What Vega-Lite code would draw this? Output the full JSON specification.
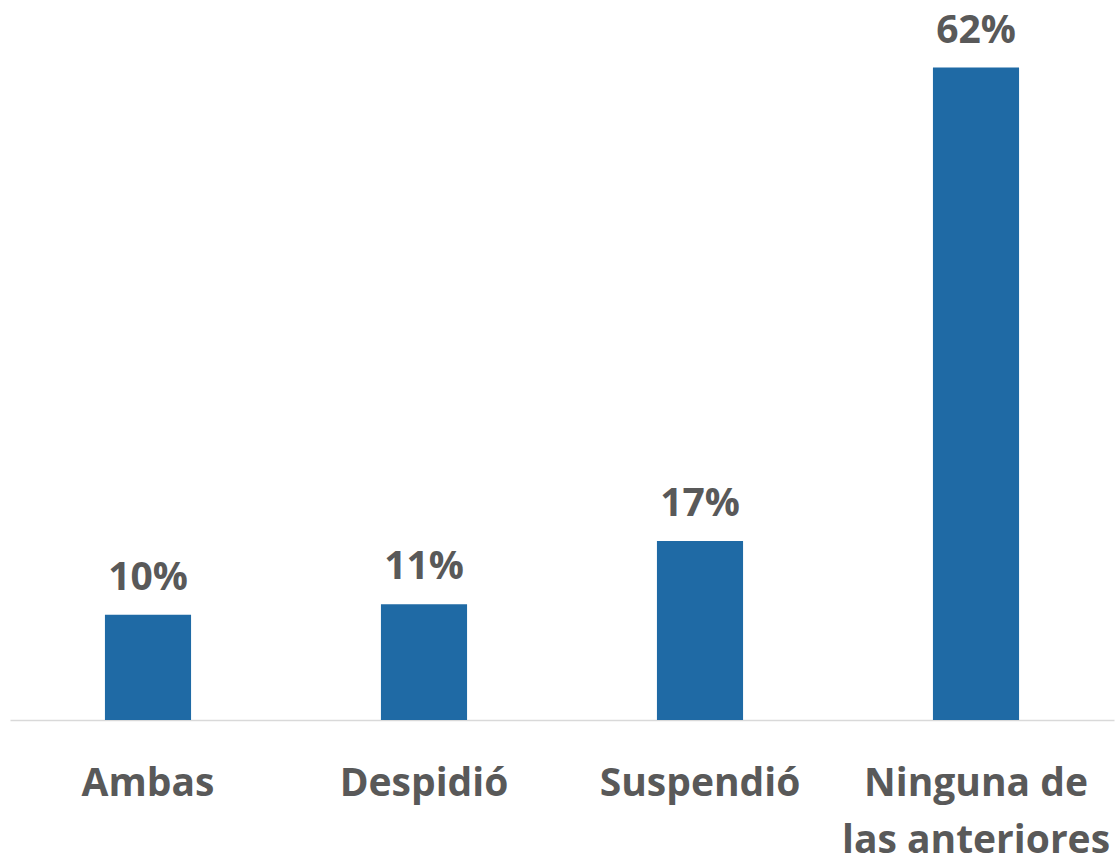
{
  "$schema": "https://vega.github.io/schema/vega-lite/v6.json",
  "width": 1104,
  "height": 684,
  "autosize": {"type": "none"},
  "padding": {"left": 10, "top": 36, "right": 1, "bottom": 141},
  "background": "white",
  "config": {"view": {"stroke": null}, "font": "Open Sans"},
  "data": {
    "values": [
      {"categoria": "Ambas", "valor": 0.10},
      {"categoria": "Despidió", "valor": 0.11},
      {"categoria": "Suspendió", "valor": 0.17},
      {"categoria": "Ninguna de las anteriores", "valor": 0.62}
    ]
  },
  "encoding": {
    "x": {
      "field": "categoria",
      "type": "nominal",
      "sort": null,
      "scale": {"paddingInner": 0.688, "paddingOuter": 0.344},
      "axis": {
        "title": null,
        "labelAngle": 0,
        "labelFont": "Open Sans",
        "labelFontSize": 39,
        "labelFontWeight": "bold",
        "labelColor": "#595959",
        "labelBaseline": "alphabetic",
        "labelPadding": 75,
        "labelLineHeight": 57,
        "labelLimit": 400,
        "labelExpr": "datum.value == 'Ninguna de las anteriores' ? ['Ninguna de', 'las anteriores'] : datum.value",
        "ticks": false,
        "domainColor": "#D9D9D9",
        "domainWidth": 1.5
      }
    },
    "y": {
      "field": "valor",
      "type": "quantitative",
      "scale": {"domain": [0, 0.65]},
      "axis": null
    }
  },
  "layer": [
    {"mark": {"type": "bar", "color": "#1F6AA5"}},
    {
      "mark": {
        "type": "text",
        "font": "Open Sans",
        "fontSize": 39,
        "fontWeight": "bold",
        "color": "#595959",
        "baseline": "alphabetic",
        "dy": -25
      },
      "encoding": {
        "text": {"field": "valor", "type": "quantitative", "format": ".0%"}
      }
    }
  ]
}
